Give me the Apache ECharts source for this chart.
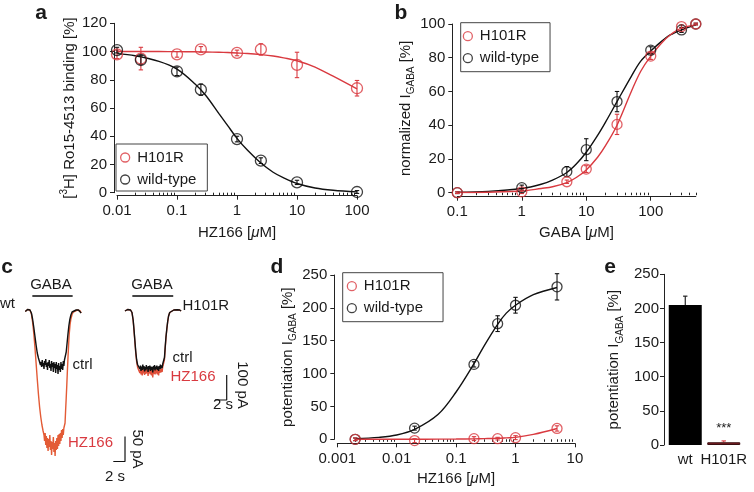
<!DOCTYPE html>
<html><head><meta charset="utf-8">
<script src="https://cdn.jsdelivr.net/npm/echarts@6/dist/echarts.min.js"></script>
<style>html,body{margin:0;padding:0;background:#fff}#c{width:754px;height:492px}</style>
</head><body><div id="c"></div>
<script>
// ---------- panel a : [3H]Ro15-4513 binding vs HZ166 ----------
const aConc = [0.01, 0.025, 0.1, 0.25, 1, 2.5, 10, 100];
const aH101R = [98, 95, 98, 101.5, 99, 101.5, 90.5, 74];
const aH101RErr = [3, 8, 2, 2, 2, 4, 9, 5.5];
const aWT = [101, 94, 86, 73, 38, 22.7, 7.3, 0.5];
const aWTErr = [2, 3, 3, 4, 2, 2, 1.5, 1];
const aFitX = [0.01, 0.02, 0.05, 0.1, 0.2, 0.3, 0.5, 0.7, 1, 1.5, 2.5, 4, 6, 10, 20, 40, 100];
const aFitWT = [98.5, 97, 93, 87.5, 77, 69, 56, 47.5, 38.5, 30, 21, 14.5, 10.5, 6.5, 3.3, 1.7, 0.6];
const aFitH101R = [100, 100, 100, 99.9, 99.8, 99.7, 99.5, 99.3, 99, 98.6, 97.8, 96.8, 95.5, 93.5, 89, 82.5, 73.5];
const aTicks = [0.01, 0.1, 1, 10, 100];

// ---------- panel b : GABA concentration response ----------
const bConc = [0.1, 1, 5, 10, 30, 100, 300, 500];
const bH101R = [0, 0.5, 6.5, 14, 40.5, 81, 98.5, 100];
const bH101RErr = [0.5, 1, 1, 2, 6, 2, 1, 0.5];
const bWT = [0, 3, 12.5, 25.5, 54, 84.5, 96.5, 100];
const bWTErr = [0.5, 1.5, 3, 6.5, 6, 2, 1.5, 0.5];
const bFitX = [0.1, 0.3, 1, 2, 3, 5, 7, 10, 15, 20, 30, 50, 70, 100, 150, 200, 300, 500];
const bFitWT = [0.3, 0.8, 2.5, 5, 7.5, 12, 17, 24, 34, 42, 54, 69, 78, 84, 90, 93.5, 96.5, 99.5];
const bFitH101R = [0.1, 0.3, 1, 2.5, 3.5, 6, 9, 13.5, 21, 28, 40, 60, 72, 81, 89, 93.5, 97.5, 99.5];
const bTicks = [0.1, 1, 10, 100];

// ---------- panel c : current traces (time s, current pA) ----------
const cWtCtrl = [[0.9,-3],[1.0,0],[1.3,1],[1.7,0],[1.95,-6],[2.15,-18],[2.35,-34],[2.55,-52],[2.75,-70],[2.95,-86],[3.15,-96],[3.3,-102],
 [3.4,-98],[3.5,-110],[3.6,-104],[3.7,-114],[3.8,-100],[3.9,-112],[4.0,-106],[4.1,-118],[4.2,-102],[4.3,-110],[4.4,-98],[4.5,-114],[4.6,-106],[4.7,-120],[4.8,-104],[4.9,-112],[5.0,-100],[5.1,-116],[5.2,-108],[5.3,-122],[5.4,-102],[5.5,-114],[5.6,-106],[5.7,-124],[5.8,-104],[5.9,-116],[6.0,-108],[6.1,-126],[6.2,-104],[6.3,-118],[6.4,-110],[6.5,-128],[6.6,-106],[6.7,-120],[6.8,-112],[6.9,-124],[7.0,-104],[7.1,-118],[7.2,-108],[7.3,-120],[7.4,-102],[7.5,-112],[7.6,-100],
 [7.75,-96],[7.9,-84],[8.05,-66],[8.2,-48],[8.35,-32],[8.5,-20],[8.7,-10],[8.9,-4],[9.2,-1],[9.6,0],[10.0,0],[10.3,-2],[10.45,-6]];
const cWtHZ = [[0.9,-3],[1.0,0],[1.3,1],[1.7,0],[1.95,-8],[2.15,-24],[2.35,-46],[2.55,-74],[2.75,-106],[2.95,-138],[3.15,-168],[3.35,-194],[3.55,-214],[3.75,-230],[3.95,-242],[4.1,-250],
 [4.2,-262],[4.3,-246],[4.4,-270],[4.5,-252],[4.6,-276],[4.7,-256],[4.8,-282],[4.9,-258],[5.0,-274],[5.1,-250],[5.2,-280],[5.3,-262],[5.4,-290],[5.5,-264],[5.6,-278],[5.7,-254],[5.8,-284],[5.9,-266],[6.0,-292],[6.1,-262],[6.2,-280],[6.3,-256],[6.4,-278],[6.5,-250],[6.6,-272],[6.7,-248],[6.8,-268],[6.9,-246],[7.0,-262],[7.1,-240],[7.2,-256],[7.3,-238],[7.4,-250],[7.5,-236],[7.6,-240],
 [7.7,-226],[7.8,-200],[7.9,-176],[8.0,-150],[8.1,-122],[8.2,-96],[8.3,-72],[8.4,-50],[8.55,-30],[8.7,-18],[8.9,-9],[9.1,-4],[9.4,-1],[9.8,0],[10.0,0],[10.3,-2],[10.45,-6]];
const cMutCtrl = [[0.85,-4],[0.95,0],[1.3,2],[1.8,0],[2.05,-10],[2.25,-40],[2.4,-80],[2.55,-124],[2.7,-168],[2.85,-200],[3.0,-218],[3.15,-226],
 [3.3,-216],[3.4,-236],[3.5,-222],[3.6,-244],[3.7,-226],[3.8,-240],[3.9,-218],[4.0,-238],[4.1,-224],[4.2,-246],[4.3,-228],[4.4,-242],[4.5,-220],[4.6,-236],[4.7,-226],[4.8,-248],[4.9,-224],[5.0,-238],[5.1,-222],[5.2,-244],[5.3,-226],[5.4,-240],[5.5,-228],[5.6,-250],[5.7,-224],[5.8,-238],[5.9,-220],[6.0,-242],[6.1,-226],[6.2,-236],[6.3,-222],[6.4,-240],[6.5,-226],[6.6,-244],[6.7,-224],[6.8,-236],[6.9,-218],[7.0,-234],[7.1,-222],[7.2,-232],[7.3,-216],
 [7.45,-210],[7.6,-190],[7.72,-150],[7.85,-110],[8.0,-76],[8.15,-46],[8.3,-24],[8.5,-10],[8.8,-3],[9.2,0],[9.8,1],[10.2,0],[10.45,-4]];
const cMutHZ = [[0.85,-4],[0.95,0],[1.3,2],[1.8,0],[2.05,-10],[2.25,-42],[2.4,-84],[2.55,-130],[2.7,-174],[2.85,-208],[3.0,-228],[3.15,-238],
 [3.3,-230],[3.4,-252],[3.5,-236],[3.6,-258],[3.7,-240],[3.8,-262],[3.9,-234],[4.0,-254],[4.1,-238],[4.2,-260],[4.3,-242],[4.4,-256],[4.5,-236],[4.6,-252],[4.7,-240],[4.8,-264],[4.9,-238],[5.0,-254],[5.1,-236],[5.2,-258],[5.3,-240],[5.4,-262],[5.5,-242],[5.6,-270],[5.7,-238],[5.8,-256],[5.9,-234],[6.0,-258],[6.1,-240],[6.2,-254],[6.3,-236],[6.4,-258],[6.5,-240],[6.6,-262],[6.7,-238],[6.8,-252],[6.9,-232],[7.0,-250],[7.1,-236],[7.2,-248],[7.3,-228],
 [7.45,-220],[7.6,-198],[7.72,-156],[7.85,-114],[8.0,-78],[8.15,-48],[8.3,-25],[8.5,-10],[8.8,-3],[9.2,0],[9.8,1],[10.2,0],[10.45,-4]];
const cWtGabaBar = [[2.11, 28], [9.0, 28]];
const cMutGabaBar = [[2.11, 56], [9.1, 56]];
const cWtScale = [[17.95, -253], [17.95, -303], [15.95, -303]];   // 50 pA, 2 s
const cMutScale = [[18.24, -260], [18.24, -360], [16.24, -360]]; // 100 pA, 2 s

// ---------- panel d : potentiation vs HZ166 ----------
const dConc = [0.002, 0.02, 0.2, 0.5, 1, 5];
const dWT = [0, 17, 114, 176, 204, 232];
const dWTErr = [2, 3, 4, 12, 12, 20];
const dH101R = [0, -2, 1, 1, 2.5, 16.5];
const dH101RErr = [2, 3, 3, 2, 3, 4];
const dFitX = [0.002, 0.005, 0.01, 0.02, 0.05, 0.1, 0.2, 0.3, 0.5, 0.7, 1, 2, 5];
const dFitWT = [1, 3, 6.5, 15, 38, 72, 115, 143, 175, 192, 204, 220, 231];
const dFitH101R = [0, 0, 0, 0, 0.2, 0.4, 0.7, 1, 1.5, 2.2, 3, 7.5, 16.5];
const dTicks = [0.001, 0.01, 0.1, 1, 10];

// ---------- panel e : bars ----------
const eCats = ['wt', 'H101R'];
const eVals = [205, 4];
const eErr = [13, 2];

// ---------- helpers ----------
const RED = '#d93a40', BLACK = '#111111', ORANGE = '#e35b36';
const FONT = '"Liberation Sans", Arial, Helvetica, sans-serif';
const TXT = '#1a1a1a';
const axLine = { color: '#222', width: 1 };
const pairs = (xs, ys) => xs.map((x, i) => [x, ys[i]]);
const triples = (xs, ys, es) => xs.map((x, i) => [x, ys[i], es[i]]);
function minorTicks(decades, maxV) {
  const out = [];
  decades.forEach(d => { for (let k = 2; k <= 9; k++) { const v = +(d * k).toPrecision(4); if (v <= maxV) out.push(v); } });
  return out;
}
const richName = {
  m: { fontSize: 15, fontFamily: FONT, color: TXT, lineHeight: 22, verticalAlign: 'middle' },
  sub: { fontSize: 10, fontFamily: FONT, color: TXT, lineHeight: 10, verticalAlign: 'bottom' },
  sup: { fontSize: 10, fontFamily: FONT, color: TXT, lineHeight: 14, verticalAlign: 'top' },
  i: { fontSize: 15, fontFamily: FONT, color: TXT, lineHeight: 22, fontStyle: 'italic', verticalAlign: 'middle' }
};
const nameStyle = { fontSize: 15, fontFamily: FONT, color: TXT, rich: richName };

function logX(grid, min, max, ticks, offset, name, gap) {
  return { type: 'log', logBase: 10, gridIndex: grid, position: 'bottom', min, max, offset,
    axisLine: { show: true, onZero: false, lineStyle: axLine },
    axisTick: { show: true, length: 4, customValues: ticks, lineStyle: axLine },
    axisLabel: { customValues: ticks, formatter: v => String(v), fontSize: 15, fontFamily: FONT, color: TXT, margin: 8 },
    splitLine: { show: false }, minorTick: { show: false },
    name, nameLocation: 'middle', nameGap: gap, nameTextStyle: nameStyle };
}
function minorX(grid, min, max, ticks, offset) {
  return { type: 'log', logBase: 10, gridIndex: grid, position: 'bottom', min, max, offset,
    axisLine: { show: false }, axisTick: { show: true, length: 2.5, customValues: ticks, lineStyle: axLine },
    axisLabel: { show: false }, splitLine: { show: false } };
}
function valY(grid, min, max, interval, offset, name, gap, margin) {
  return { type: 'value', gridIndex: grid, min, max, interval, offset,
    axisLine: { show: true, onZero: false, lineStyle: axLine },
    axisTick: { show: true, length: 4, lineStyle: axLine },
    axisLabel: { fontSize: 15, fontFamily: FONT, color: TXT, margin: margin },
    splitLine: { show: false },
    name, nameLocation: 'middle', nameGap: gap, nameTextStyle: nameStyle };
}
function hiddenAx(grid, min, max) {
  return { type: 'value', gridIndex: grid, min, max, show: false, axisLine: { onZero: false }, splitLine: { show: false } };
}
function errRender(color, upOnly) {
  return function (params, api) {
    const x = api.value(0), y = api.value(1), e = api.value(2);
    const hi = api.coord([x, y + e]);
    const lo = api.coord([x, upOnly ? y : y - e]);
    const cw = 2.2;
    const st = { stroke: color, lineWidth: 1.1 };
    const ch = [
      { type: 'line', shape: { x1: hi[0], y1: hi[1], x2: lo[0], y2: lo[1] }, style: st },
      { type: 'line', shape: { x1: hi[0] - cw, y1: hi[1], x2: hi[0] + cw, y2: hi[1] }, style: st }
    ];
    if (!upOnly) ch.push({ type: 'line', shape: { x1: lo[0] - cw, y1: lo[1], x2: lo[0] + cw, y2: lo[1] }, style: st });
    return { type: 'group', children: ch };
  };
}
function scatterS(name, xs, ys, color, xi, yi, size) {
  return { type: 'scatter', name, xAxisIndex: xi, yAxisIndex: yi, data: pairs(xs, ys), symbol: 'circle', symbolSize: size,
    itemStyle: { color: 'rgba(255,255,255,0)', borderColor: color, borderWidth: 1.3 }, clip: false, silent: true, z: 4 };
}
function errS(xs, ys, es, color, xi, yi) {
  return { type: 'custom', name: 'err', xAxisIndex: xi, yAxisIndex: yi, data: triples(xs, ys, es), encode: { x: 0, y: 1 },
    renderItem: errRender(color, false), clip: false, silent: true, z: 3 };
}
function fitS(xs, ys, color, xi, yi) {
  return { type: 'line', name: 'fit', xAxisIndex: xi, yAxisIndex: yi, data: pairs(xs, ys), smooth: 0.35, showSymbol: false, symbol: 'none',
    lineStyle: { color, width: 1.4 }, silent: true, z: 2 };
}
function traceS(data, color, xi, yi, w) {
  return { type: 'line', name: 'trace', xAxisIndex: xi, yAxisIndex: yi, data, showSymbol: false, symbol: 'none', clip: false,
    lineStyle: { color, width: w || 1.2 }, silent: true, z: 2 };
}
const legendData = [
  { name: 'H101R', icon: 'circle', itemStyle: { color: 'rgba(255,255,255,0)', borderColor: RED, borderWidth: 1.3 } },
  { name: 'wild-type', icon: 'circle', itemStyle: { color: 'rgba(255,255,255,0)', borderColor: BLACK, borderWidth: 1.3 } }
];
function legendAt(left, top, pad) {
  return { left, top, orient: 'vertical', data: legendData, selectedMode: false, borderColor: '#444', borderWidth: 1,
    padding: pad, itemGap: 7, itemWidth: 14, itemHeight: 9, textStyle: { fontSize: 15, fontFamily: FONT, color: TXT } };
}
function txt(text, x, y, opts, rotation) {
  const el = { type: 'text', x, y, silent: true, style: Object.assign({ text, font: '15px ' + FONT, fill: TXT, align: 'left', verticalAlign: 'middle' }, opts || {}) };
  if (rotation !== undefined) el.rotation = rotation;
  return el;
}

const chart = echarts.init(document.getElementById('c'), null, { renderer: 'canvas' });
const option = {
  animation: false,
  backgroundColor: '#fff',
  grid: [
    { left: 117, top: 23.3, width: 240, height: 169.4 },   // a
    { left: 457.3, top: 24, width: 238.5, height: 168.7 },  // b
    { left: 20, top: 290, width: 117, height: 180 },        // c wt
    { left: 120, top: 290, width: 117, height: 180 },       // c H101R
    { left: 337.3, top: 275, width: 237.6, height: 164.3 }, // d
    { left: 666, top: 274.3, width: 77, height: 170.7 }     // e
  ],
  xAxis: [
    logX(0, 0.01, 100, aTicks, 3, 'HZ166 [{i|μ}M]', 26),
    minorX(0, 0.01, 100, minorTicks([0.01, 0.1, 1, 10], 100), 3),
    logX(1, 0.1, 500, bTicks, 4, 'GABA [{i|μ}M]', 25),
    minorX(1, 0.1, 500, minorTicks([0.1, 1, 10, 100], 500), 4),
    hiddenAx(2, 0, 20),
    hiddenAx(3, 0, 20),
    logX(4, 0.001, 10, dTicks, 4, 'HZ166 [{i|μ}M]', 25),
    minorX(4, 0.001, 10, minorTicks([0.001, 0.01, 0.1, 1], 10), 4),
    { type: 'category', gridIndex: 5, data: eCats, axisLine: { show: false }, axisTick: { show: false },
      axisLabel: { interval: 0, hideOverlap: false, fontSize: 15, fontFamily: FONT, color: TXT, margin: 7 } }
  ],
  yAxis: [
    valY(0, 0, 120, 20, 3, '{m|[}{sup|3}{m|H] Ro15-4513 binding [%]}', 33, 7),
    valY(1, 0, 100, 20, 5, '{m|normalized I}{sub|GABA}{m| [%]}', 25, 7),
    hiddenAx(2, -320, 40),
    hiddenAx(3, -640, 80),
    valY(4, 0, 250, 50, 3, '{m|potentiation I}{sub|GABA}{m| [%]}', 29, 7),
    valY(5, 0, 250, 50, 2, '{m|potentiation I}{sub|GABA}{m| [%]}', 39, 5)
  ],
  legend: [
    legendAt(116, 144, [6, 11, 4, 4]),
    legendAt(460.7, 22.7, [6, 11, 6, 2]),
    legendAt(342.7, 272.7, [6, 20, 6, 4])
  ],
  series: [
    // a
    fitS(aFitX, aFitH101R, RED, 0, 0),
    fitS(aFitX, aFitWT, BLACK, 0, 0),
    errS(aConc, aH101R, aH101RErr, RED, 0, 0),
    errS(aConc, aWT, aWTErr, BLACK, 0, 0),
    scatterS('H101R', aConc, aH101R, RED, 0, 0, 11),
    scatterS('wild-type', aConc, aWT, BLACK, 0, 0, 11),
    // b
    fitS(bFitX, bFitWT, BLACK, 2, 1),
    fitS(bFitX, bFitH101R, RED, 2, 1),
    errS(bConc, bWT, bWTErr, BLACK, 2, 1),
    errS(bConc, bH101R, bH101RErr, RED, 2, 1),
    scatterS('wild-type', bConc, bWT, BLACK, 2, 1, 10),
    scatterS('H101R', bConc, bH101R, RED, 2, 1, 10),
    // c
    traceS(cWtHZ, ORANGE, 4, 2, 1.4),
    traceS(cWtCtrl, BLACK, 4, 2, 1.4),
    traceS(cWtGabaBar, '#444', 4, 2, 2),
    traceS(cWtScale, BLACK, 4, 2, 1.2),
    traceS(cMutHZ, '#e0503a', 5, 3, 1.4),
    traceS(cMutCtrl, BLACK, 5, 3, 1.4),
    traceS(cMutGabaBar, '#444', 5, 3, 2),
    traceS(cMutScale, BLACK, 5, 3, 1.2),
    // d
    fitS(dFitX, dFitWT, BLACK, 6, 4),
    fitS(dFitX, dFitH101R, RED, 6, 4),
    errS(dConc, dWT, dWTErr, BLACK, 6, 4),
    errS(dConc, dH101R, dH101RErr, RED, 6, 4),
    scatterS('wild-type', dConc, dWT, BLACK, 6, 4, 10),
    scatterS('H101R', dConc, dH101R, RED, 6, 4, 10),
    // e
    { type: 'custom', name: 'err', xAxisIndex: 8, yAxisIndex: 5, data: eCats.map((c, i) => [i, eVals[i], eErr[i]]), encode: { x: 0, y: 1 },
      renderItem: (p, api) => errRender(p.dataIndex === 0 ? BLACK : RED, true)(p, api), clip: false, silent: true, z: 1 },
    { type: 'bar', name: 'bars', xAxisIndex: 8, yAxisIndex: 5, barWidth: 33, silent: true, z: 2,
      data: [
        { value: eVals[0], itemStyle: { color: '#000' } },
        { value: eVals[1], itemStyle: { color: '#7d1f24', borderColor: '#3a0e10', borderWidth: 1 },
          label: { show: true, position: 'top', distance: 7, formatter: '***', fontSize: 13, fontFamily: FONT, color: TXT } }
      ] }
  ],
  graphic: [
    txt('a', 41, 13, { font: 'bold 21px ' + FONT, align: 'center' }),
    txt('b', 401, 13, { font: 'bold 21px ' + FONT, align: 'center' }),
    txt('c', 7, 267, { font: 'bold 21px ' + FONT, align: 'center' }),
    txt('d', 277, 267, { font: 'bold 21px ' + FONT, align: 'center' }),
    txt('e', 610, 267, { font: 'bold 21px ' + FONT, align: 'center' }),
    txt('GABA', 51, 285, { align: 'center' }),
    txt('GABA', 152, 285, { align: 'center' }),
    txt('wt', 0, 304),
    txt('H101R', 182.5, 306),
    txt('ctrl', 72.5, 365),
    txt('HZ166', 68, 443, { fill: RED }),
    txt('ctrl', 172.5, 358),
    txt('HZ166', 170.5, 377, { fill: RED }),
    txt('2 s', 115, 477, { align: 'center' }),
    txt('50 pA', 137, 449, { align: 'center' }, -Math.PI / 2),
    txt('2 s', 223, 405, { align: 'center' }),
    txt('100 pA', 242, 385, { align: 'center' }, -Math.PI / 2)
  ]
};
chart.setOption(option);
</script></body></html>
